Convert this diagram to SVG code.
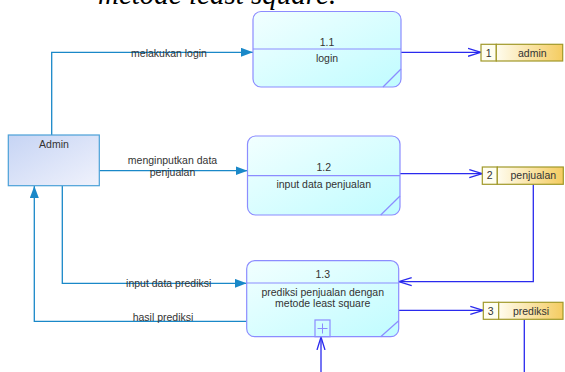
<svg xmlns="http://www.w3.org/2000/svg" width="565" height="372" viewBox="0 0 565 372">
<style>
.t{font-family:"Liberation Sans",Arial,sans-serif;font-size:10.5px;fill:#333;text-anchor:middle}
.proc{fill:url(#gp);stroke:#8C8CFF;stroke-width:1.2}
.pl{stroke:#8C8CFF;stroke-width:1.2;fill:none}
.ext{fill:url(#ga);stroke:#4AA0D8;stroke-width:1.2}
.st{stroke:#A09828;stroke-width:1.2}
.fa{fill:none;stroke:#1A88C8;stroke-width:1.3}
.fb{fill:none;stroke:#2A2AEE;stroke-width:1.3}
.title{font-family:"Liberation Serif","Times New Roman",serif;font-style:italic;font-size:29px;fill:#000}
</style>
<defs>
<linearGradient id="gp" x1="0" y1="0" x2="1" y2="1"><stop offset="0" stop-color="#F2FFFF"/><stop offset="1" stop-color="#C0FCFF"/></linearGradient>
<linearGradient id="ga" x1="0" y1="0" x2="1" y2="1"><stop offset="0" stop-color="#C6D4F4"/><stop offset="1" stop-color="#F0F2FC"/></linearGradient>
<linearGradient id="gs" x1="0" y1="0" x2="1" y2="0"><stop offset="0" stop-color="#FFFCEE"/><stop offset="1" stop-color="#F4CC60"/></linearGradient>
<marker id="fill" markerUnits="userSpaceOnUse" markerWidth="13" markerHeight="10" refX="12" refY="4.5" orient="auto"><path d="M0,0 L12,4.5 L0,9 z" fill="#1A88C8"/></marker>
<marker id="open" markerUnits="userSpaceOnUse" markerWidth="15" markerHeight="11" refX="13" refY="5" orient="auto"><path d="M0,1 L13,5 L0,9" fill="none" stroke="#2A2AEE" stroke-width="1.3"/></marker>
</defs>
<text class="title" x="98" y="4">metode least square.</text>
<g id="connectors">
<g id="f-login"><polyline class="fa" points="51.7,135 51.7,52.3 253,52.3" marker-end="url(#fill)"/><text class="t" x="169" y="57">melakukan login</text></g>
<g id="f-input-penjualan"><polyline class="fa" points="99.3,170.7 247.5,170.7" marker-end="url(#fill)"/><text class="t" x="172.5" y="164">menginputkan data</text><text class="t" x="172.5" y="176">penjualan</text></g>
<g id="f-input-prediksi"><polyline class="fa" points="62.3,185.7 62.3,283.3 246.7,283.3" marker-end="url(#fill)"/><text class="t" x="168.7" y="287">input data prediksi</text></g>
<g id="f-hasil"><polyline class="fa" points="246.7,321.3 34.3,321.3 34.3,186" marker-end="url(#fill)"/><text class="t" x="163" y="321">hasil prediksi</text></g>
<polyline class="fb" points="401,52.3 481,52.3" marker-end="url(#open)"/>
<polyline class="fb" points="400,173.7 482.3,173.7" marker-end="url(#open)"/>
<polyline class="fb" points="533.3,184.3 533.3,281.7 398.7,281.7" marker-end="url(#open)"/>
<polyline class="fb" points="398.7,310.3 483.3,310.3" marker-end="url(#open)"/>
<polyline class="fb" points="524.3,319.3 524.3,372"/>
<polyline class="fb" points="321,372 321,337" marker-end="url(#open)"/>
</g>
<g id="admin"><rect class="ext" x="8.3" y="135" width="91" height="50.7"/><text class="t" x="54" y="147.5">Admin</text></g>
<g id="p1-1"><rect class="proc" x="253" y="11.5" width="148" height="75.5" rx="8"/><line class="pl" x1="253" y1="49" x2="401" y2="49"/><line class="pl" x1="383" y1="87" x2="401" y2="69"/><text class="t" x="327" y="45.5">1.1</text><text class="t" x="327" y="61.5">login</text></g>
<g id="p1-2"><rect class="proc" x="247.5" y="136" width="152.5" height="79" rx="8"/><line class="pl" x1="247.5" y1="175.7" x2="400" y2="175.7"/><line class="pl" x1="380.7" y1="215" x2="400" y2="196"/><text class="t" x="323.7" y="170.5">1.2</text><text class="t" x="323.7" y="187.5">input data penjualan</text></g>
<g id="p1-3"><rect class="proc" x="246.7" y="260.7" width="152" height="76" rx="8"/><line class="pl" x1="246.7" y1="283" x2="398.7" y2="283"/><line class="pl" x1="380.7" y1="336.7" x2="398.7" y2="320.7"/><rect class="pl" x="315" y="320" width="15" height="16.7"/><path d="M322.5,323.5 v10 M317.5,328.5 h10" stroke="#8C8CFF" stroke-width="1"/><text class="t" x="322.7" y="277.5">1.3</text><text class="t" x="322.7" y="296">prediksi penjualan dengan</text><text class="t" x="322.7" y="307">metode least square</text></g>
<g id="ds1"><rect class="st" x="481" y="44.3" width="15.3" height="16.7" fill="#FFFEF0"/><rect class="st" x="496.3" y="44.3" width="66.4" height="16.7" fill="url(#gs)"/><text class="t" x="488.6" y="57">1</text><text class="t" x="532.3" y="57">admin</text></g>
<g id="ds2"><rect class="st" x="482.3" y="167" width="15" height="17.3" fill="#FFFEF0"/><rect class="st" x="497.3" y="167" width="66" height="17.3" fill="url(#gs)"/><text class="t" x="489.6" y="179">2</text><text class="t" x="533.3" y="179">penjualan</text></g>
<g id="ds3"><rect class="st" x="483.3" y="302.3" width="15.4" height="17" fill="#FFFEF0"/><rect class="st" x="498.7" y="302.3" width="64.3" height="17" fill="url(#gs)"/><text class="t" x="490.6" y="314.5">3</text><text class="t" x="531" y="314.5">prediksi</text></g>
</svg>
